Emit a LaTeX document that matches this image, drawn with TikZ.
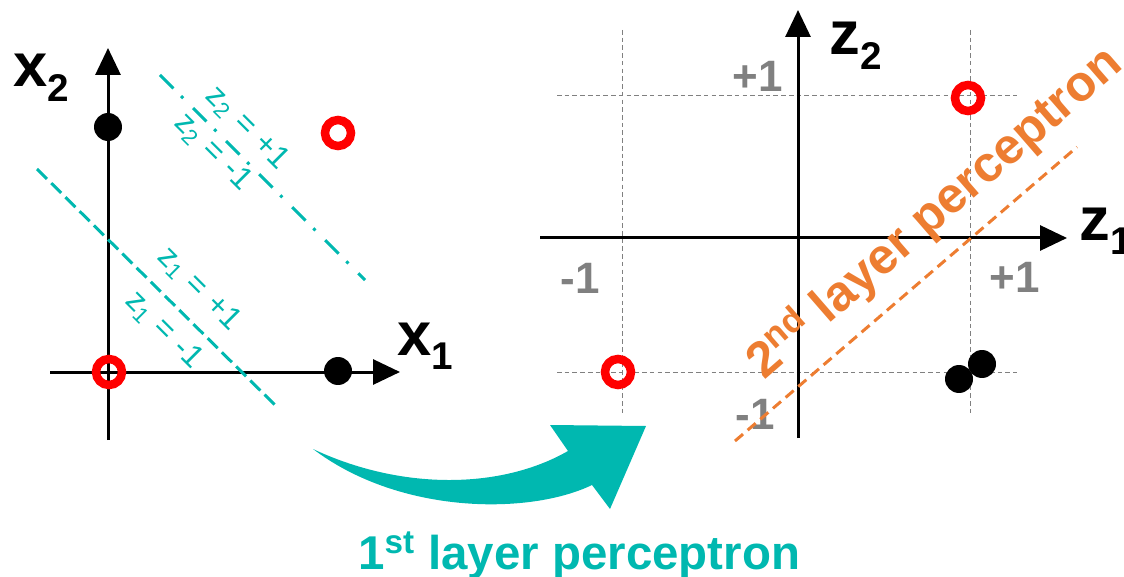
\documentclass[tikz,border=0pt]{standalone}
\usepackage{fontspec}
\setmainfont{Liberation Sans}
\usepackage{tikz}
\usetikzlibrary{arrows.meta,calc}

\definecolor{tealc}{RGB}{0,184,176}
\definecolor{orangec}{RGB}{237,125,49}
\definecolor{grayc}{RGB}{128,128,128}

\newcommand{\axl}[2]{#1\raisebox{-.24em}{\fontsize{22}{22}\selectfont #2}}
\newcommand{\zl}[2]{z\textsubscript{#1}\hspace{.32em}=\hspace{.32em}#2}

\begin{document}
\begin{tikzpicture}[
  x=0.02cm, y=-0.02cm,
  ax/.style={line width=0.06cm, -{Triangle[length=0.54cm,width=0.5cm]}},
  gridln/.style={grayc, line width=0.55pt, dash pattern=on 2.6pt off 1.8pt},
  dot/.style={circle, fill=black, inner sep=0pt, minimum size=0.56cm},
  ring/.style={circle, draw=red, line width=0.17cm, inner sep=0pt, minimum size=0.52cm},
  axlab/.style={font=\fontsize{35}{35}\selectfont\bfseries, inner sep=0pt, anchor=base west},
  tick/.style={text=grayc, font=\fontsize{25}{25}\selectfont\bfseries, inner sep=0pt},
  zlab/.style={text=tealc, font=\fontsize{18}{18}\selectfont, inner sep=0pt, rotate=-45},
  sep1/.style={tealc, line width=0.06cm, dash pattern=on 8pt off 3.4pt},
  sep2/.style={tealc, line width=0.06cm, dash pattern=on 10.8pt off 6.2pt on 1.7pt off 7.9pt},
  sep3/.style={orangec, line width=0.06cm, dash pattern=on 6pt off 3.5pt},
]
\useasboundingbox (0,0) rectangle (1124,577);

% input space
\coordinate (x2lo) at (108,440);
\coordinate (x2hi) at (108,48);
\coordinate (x1lo) at (50,372);
\coordinate (x1hi) at (400,372);
\draw[ax] (x2lo) -- (x2hi);
\draw[ax] (x1lo) -- (x1hi);
\node[axlab] (x2) at (13,87) {\axl{x}{2}};
\node[axlab] (x1) at (397,355) {\axl{x}{1}};

\coordinate (s1a) at (37,169);
\coordinate (s1b) at (275,405);
\coordinate (s2a) at (160,75);
\coordinate (s2b) at (365,280);
\draw[sep1] (s1a) -- (s1b);
\draw[sep2] (s2a) -- (s2b);
\node[zlab] (z2p) at (247,128) {\zl{2}{+1}};
\node[zlab] (z2m) at (213,152) {\zl{2}{-1}};
\node[zlab] (z1p) at (199,289) {\zl{1}{+1}};
\node[zlab] (z1m) at (164,330) {\zl{1}{-1}};

\node[dot] (p01) at (108,127) {};
\node[dot] (p10) at (338,371) {};
\node[ring] (p00) at (109,372) {};
\node[ring] (p11) at (338,133) {};

% hidden space
\coordinate (gl1) at (557,95);
\coordinate (gr1) at (1017,95);
\coordinate (gl2) at (557,372);
\coordinate (gr2) at (1017,372);
\coordinate (gt1) at (622,30);
\coordinate (gb1) at (622,413);
\coordinate (gt2) at (970,30);
\coordinate (gb2) at (970,413);
\draw[gridln] (gl1) -- (gr1);
\draw[gridln] (gl2) -- (gr2);
\draw[gridln] (gt1) -- (gb1);
\draw[gridln] (gt2) -- (gb2);

\coordinate (z2lo) at (798,438);
\coordinate (z2hi) at (798,10);
\coordinate (z1lo) at (540,238);
\coordinate (z1hi) at (1067,238);
\draw[ax] (z2lo) -- (z2hi);
\draw[ax] (z1lo) -- (z1hi);
\node[axlab] (z2) at (829,55) {\axl{z}{2}};
\node[axlab] (z1) at (1079,240) {\axl{z}{1}};

\node[tick] (tp) at (758,76) {+1};
\node[tick] (tm) at (580,278) {-1};
\node[tick] (rp) at (1015,277) {+1};
\node[tick] (bm) at (755,414) {-1};

\node[ring] (q00) at (618,372) {};
\node[ring] (q11) at (968,98) {};
\node[dot] (q01) at (959,379) {};
\node[dot] (q10) at (982,364) {};

\coordinate (o1) at (735,441);
\coordinate (o2) at (1077,147);
\draw[sep3] (o1) -- (o2);
\node[text=orangec, font=\fontsize{28.5}{28.5}\selectfont\bfseries, inner sep=0pt,
  anchor=base west, rotate=41] (l2) at (764,381) {2\textsuperscript{nd} layer perceptron};

% mapping arrow
\fill[tealc] (313,449) .. controls (400,490) and (500,490) .. (568,451)
  -- (550,425) -- (646,426) -- (610,509) -- (592,485)
  .. controls (530,515) and (400,515) .. (313,449) -- cycle;
\node[text=tealc, font=\fontsize{27}{27}\selectfont\bfseries, inner sep=0pt,
  anchor=base west] (l1) at (358,569) {1\textsuperscript{st} layer perceptron};
\end{tikzpicture}
\end{document}
